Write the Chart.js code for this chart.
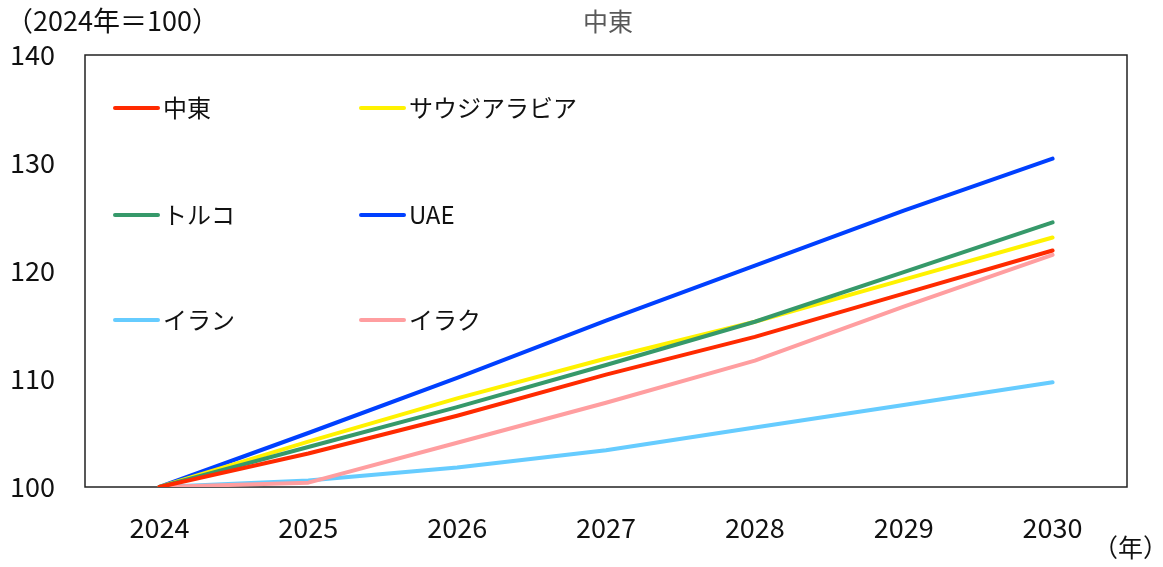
<!DOCTYPE html>
<html>
<head>
<meta charset="utf-8">
<script src="https://cdn.jsdelivr.net/npm/chart.js@4"></script>
<style>
  html, body { margin: 0; padding: 0; background: #fff; }
  #wrap { width: 1163px; height: 567px; }
</style>
</head>
<body>
<div id="wrap"><canvas id="chart" width="1163" height="567"></canvas></div>
<script>
const years = ["2024", "2025", "2026", "2027", "2028", "2029", "2030"];

const middleEast = [100, 103.1, 106.6, 110.4, 113.9, 117.9, 121.9];
const saudi      = [100, 104.2, 108.2, 111.9, 115.3, 119.2, 123.1];
const turkey     = [100, 103.7, 107.4, 111.3, 115.3, 119.9, 124.5];
const uae        = [100, 105.0, 110.1, 115.4, 120.5, 125.6, 130.4];
const iran       = [100, 100.6, 101.8, 103.4, 105.5, 107.6, 109.7];
const iraq       = [100, 100.4, 104.1, 107.8, 111.7, 116.7, 121.5];

const yTicks = [100, 110, 120, 130, 140];

const FONT = "'Noto Sans CJK JP', 'Noto Sans', sans-serif";

function series(label, data, color, order) {
  return {
    label: label,
    data: data,
    borderColor: color,
    backgroundColor: color,
    borderWidth: 4,
    borderCapStyle: "round",
    borderJoinStyle: "round",
    pointRadius: 0,
    tension: 0,
    order: order,
  };
}

// frame, titles and the in-plot legend
const decorations = {
  id: "decorations",
  beforeDatasetsDraw(chart) {
    const { ctx, chartArea: a } = chart;
    ctx.save();
    ctx.strokeStyle = "#222";
    ctx.lineWidth = 1.5;
    ctx.strokeRect(a.left, a.top, a.right - a.left, a.bottom - a.top);
    ctx.restore();
  },
  afterDraw(chart) {
    const { ctx, chartArea: a } = chart;
    ctx.save();
    ctx.textBaseline = "middle";

    ctx.font = "25px " + FONT;
    ctx.fillStyle = "#595959";
    ctx.textAlign = "center";
    ctx.fillText("中東", (a.left + a.right) / 2 + 2, 21);

    ctx.fillStyle = "#111";
    ctx.textAlign = "left";
    ctx.font = "27px " + FONT;
    ctx.fillText("（2024年＝100）", 6, 21);
    ctx.font = "25px " + FONT;
    ctx.fillText("（年）", 1093, 547);

    ctx.font = "24px " + FONT;
    const cols = [115, 361];
    const rows = [108, 215, 320];
    chart.data.datasets.forEach((ds, i) => {
      const x = cols[i % 2];
      const y = rows[Math.floor(i / 2)];
      ctx.strokeStyle = ds.borderColor;
      ctx.lineWidth = 4;
      ctx.lineCap = "round";
      ctx.beginPath();
      ctx.moveTo(x, y);
      ctx.lineTo(x + 43, y);
      ctx.stroke();
      ctx.fillStyle = "#111";
      ctx.fillText(ds.label, x + 48, y);
    });
    ctx.restore();
  }
};

new Chart(document.getElementById("chart"), {
  type: "line",
  data: {
    labels: years,
    datasets: [
      series("中東", middleEast, "#ff2a00", 0),
      series("サウジアラビア", saudi, "#fff200", 2),
      series("トルコ", turkey, "#36996a", 1),
      series("UAE", uae, "#0040ff", 3),
      series("イラン", iran, "#66ccff", 5),
      series("イラク", iraq, "#ff9ea0", 4),
    ]
  },
  options: {
    responsive: false,
    animation: false,
    layout: { padding: { top: 55, right: 36, left: 0, bottom: 0 } },
    plugins: {
      legend: { display: false },
      title: { display: false },
      tooltip: { enabled: false },
    },
    scales: {
      x: {
        offset: true,
        grid: { display: false, drawTicks: false },
        border: { display: false },
        ticks: { color: "#111", font: { family: FONT, size: 27 }, padding: 25, maxRotation: 0 },
        afterFit(scale) { scale.height = 80; },
      },
      y: {
        min: 100,
        max: 140,
        afterBuildTicks(scale) { scale.ticks = yTicks.map(v => ({ value: v })); },
        grid: { display: false, drawTicks: false },
        border: { display: false },
        ticks: { color: "#111", font: { family: FONT, size: 27 }, padding: 30 },
        afterFit(scale) { scale.width = 85; },
      }
    }
  },
  plugins: [decorations]
});
</script>
</body>
</html>
